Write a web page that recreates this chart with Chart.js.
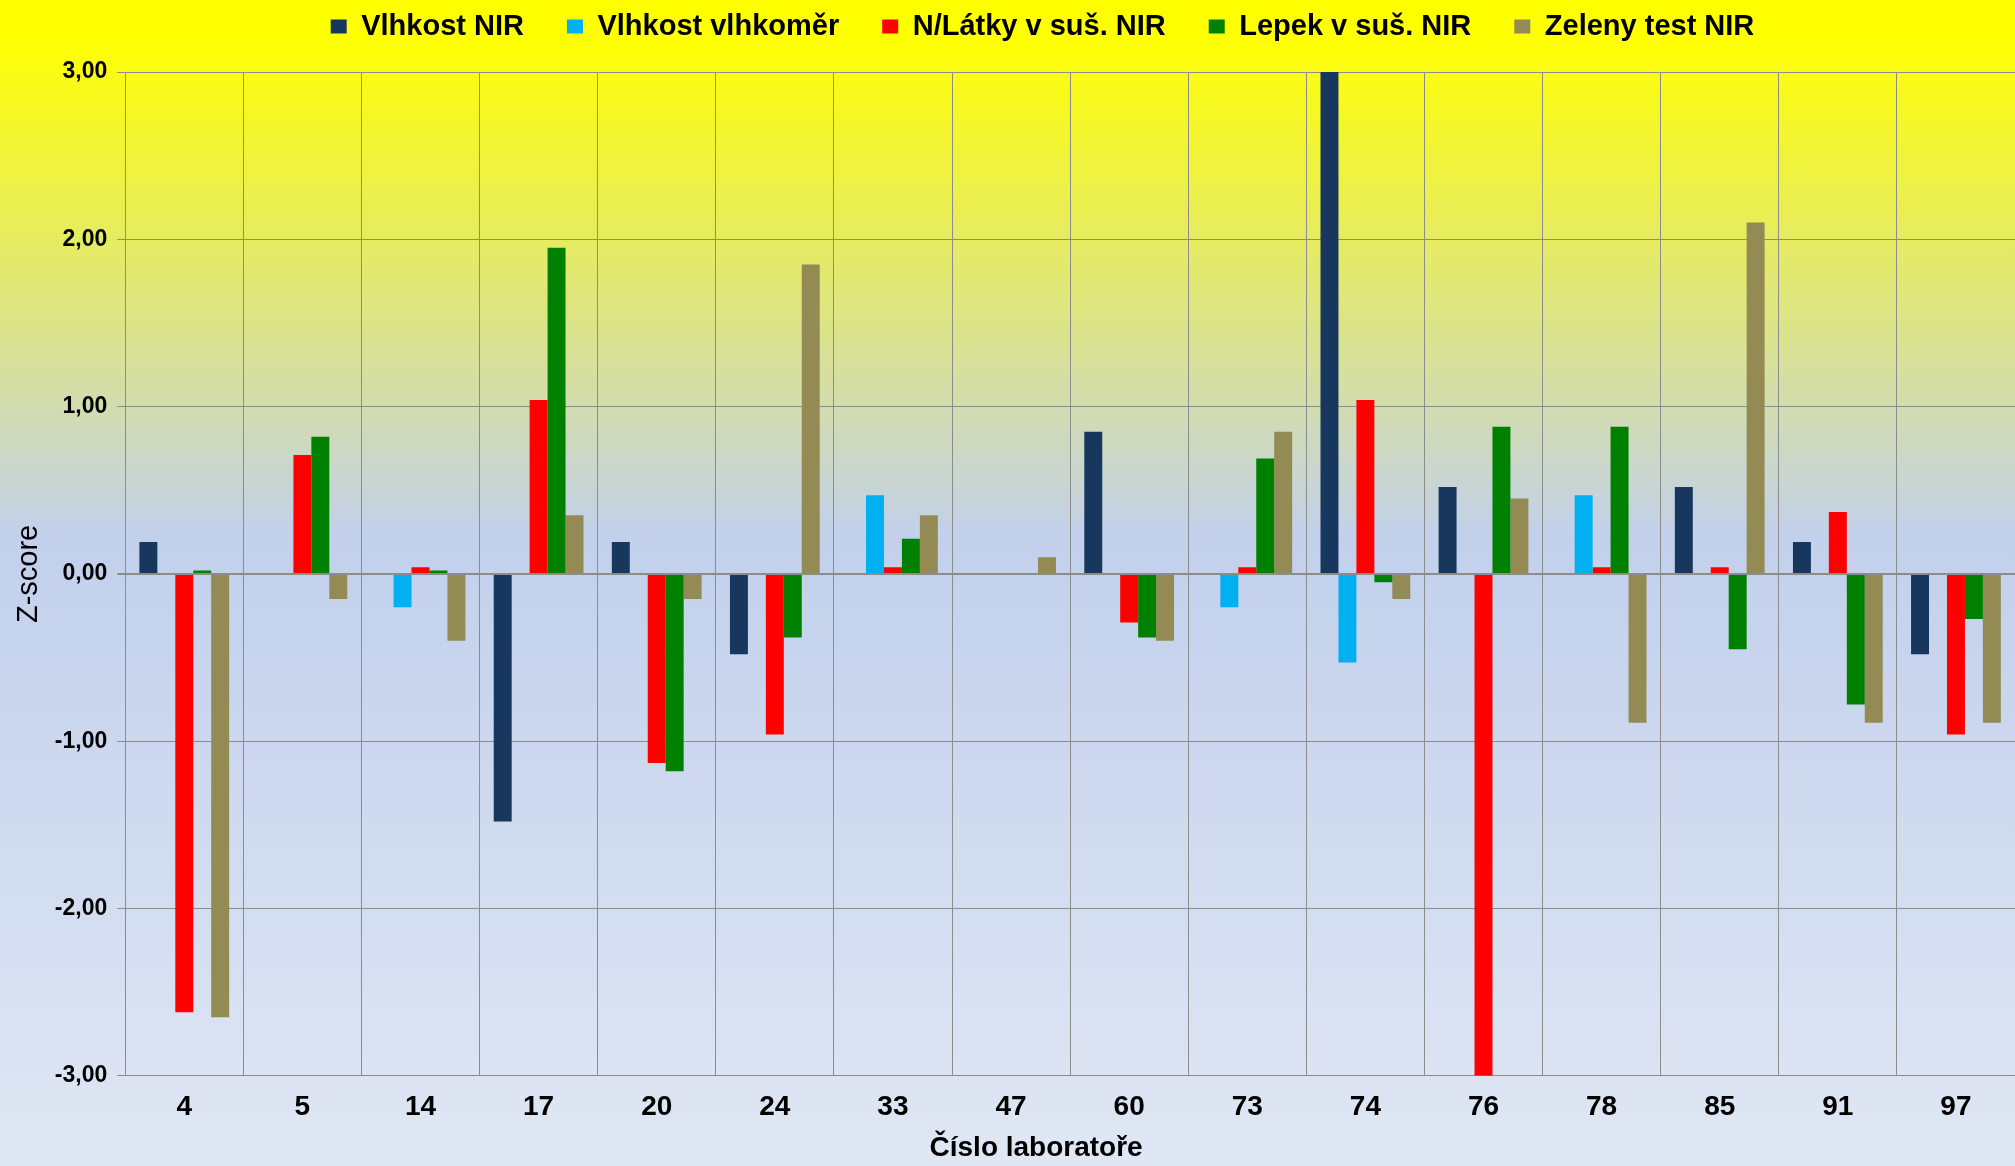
<!DOCTYPE html>
<html>
<head>
<meta charset="utf-8">
<script src="https://cdn.jsdelivr.net/npm/chart.js@4.4.0/dist/chart.umd.min.js"></script>
<style>
  html, body { margin: 0; padding: 0; background: #dfe6f4; }
  canvas { display: block; }
</style>
</head>
<body>
<canvas id="zscoreChart" width="2015" height="1166"></canvas>
<script>
// lab numbers on the x axis
const labs = ['4', '5', '14', '17', '20', '24', '33', '47', '60', '73', '74', '76', '78', '85', '91', '97'];

// z-scores per lab (null = no bar)
const vlhkostNIR      = [0.19, null, null, -1.48, 0.19, -0.48, null, null, 0.85, null, 3.00, 0.52, null, 0.52, 0.19, -0.48];
const vlhkostVlhkomer = [null, null, -0.20, null, null, null, 0.47, null, null, -0.20, -0.53, null, 0.47, null, null, null];
const nLatky          = [-2.62, 0.71, 0.04, 1.04, -1.13, -0.96, 0.04, null, -0.29, 0.04, 1.04, -3.00, 0.04, 0.04, 0.37, -0.96];
const lepek           = [0.02, 0.82, 0.02, 1.95, -1.18, -0.38, 0.21, null, -0.38, 0.69, -0.05, 0.88, 0.88, -0.45, -0.78, -0.27];
const zelenyTest      = [-2.65, -0.15, -0.40, 0.35, -0.15, 1.85, 0.35, 0.10, -0.40, 0.85, -0.15, 0.45, -0.89, 2.10, -0.89, -0.89];

const yMin = -3;
const yMax = 3;

Chart.defaults.font.family = "'Liberation Sans', Arial, sans-serif";
Chart.defaults.color = '#000';

// yellow -> blue background over the whole canvas
const bgGradient = {
  id: 'bgGradient',
  beforeDraw(chart) {
    const c = chart.ctx;
    const g = c.createLinearGradient(0, 0, 0, chart.height);
    g.addColorStop(0, '#ffff00');
    g.addColorStop(0.03, '#ffff00');
    g.addColorStop(0.46, '#c2d0ec');
    g.addColorStop(1, '#e0e7f4');
    c.save();
    c.fillStyle = g;
    c.fillRect(0, 0, chart.width, chart.height);
    c.restore();
  }
};

// wide gaps between legend items but a short legend box,
// and nudge legend / x title the way the original sits
function shifted(obj, fnName, dx) {
  const orig = obj[fnName];
  obj[fnName] = function () {
    const c = this.ctx;
    c.save();
    c.translate(dx, 0);
    orig.apply(this, arguments);
    c.restore();
  };
}

const layoutTweaks = {
  id: 'layoutTweaks',
  beforeLayout(chart) {
    const lg = chart.legend;
    if (lg && !lg._wrapped) {
      const fit = lg.fit;
      lg.fit = function () {
        fit.call(this);
        this.height = 103;
      };
      shifted(lg, 'draw', 35);
      lg._wrapped = true;
    }
    const xs = chart.scales.x;
    if (xs && !xs._wrapped) {
      shifted(xs, 'drawTitle', -34);
      xs._wrapped = true;
    }
  }
};

const ctx = document.getElementById('zscoreChart').getContext('2d');
new Chart(ctx, {
  type: 'bar',
  data: {
    labels: labs,
    datasets: [
      { label: 'Vlhkost NIR', data: vlhkostNIR, backgroundColor: '#17375e' },
      { label: 'Vlhkost vlhkoměr', data: vlhkostVlhkomer, backgroundColor: '#00b0f0' },
      { label: 'N/Látky v suš. NIR', data: nLatky, backgroundColor: '#ff0000' },
      { label: 'Lepek v suš. NIR', data: lepek, backgroundColor: '#008000' },
      { label: 'Zeleny test NIR', data: zelenyTest, backgroundColor: '#948a54' }
    ]
  },
  options: {
    responsive: false,
    animation: false,
    devicePixelRatio: 1,
    layout: {
      padding: { top: -31, left: 0, right: 0, bottom: 1 }
    },
    datasets: {
      bar: { barPercentage: 1, categoryPercentage: 0.76 }
    },
    plugins: {
      tooltip: { enabled: false },
      legend: {
        position: 'top',
        labels: {
          boxWidth: 16,
          boxHeight: 14,
          padding: 43,
          color: '#000',
          font: { size: 29, weight: 'bold' }
        }
      }
    },
    scales: {
      x: {
        grid: { color: '#8c8c8c', drawTicks: false, offset: true },
        border: { color: '#8c8c8c' },
        ticks: { padding: 15, font: { size: 28, weight: 'bold' } },
        title: {
          display: true,
          text: 'Číslo laboratoře',
          font: { size: 28, weight: 'bold' },
          padding: { top: -8, bottom: 0 }
        }
      },
      y: {
        min: yMin,
        max: yMax,
        ticks: {
          stepSize: 1,
          padding: 10,
          font: { size: 23, weight: 'bold' },
          callback: (v) => Number(v).toFixed(2).replace('.', ',')
        },
        grid: {
          color: '#8c8c8c',
          tickLength: 8,
          lineWidth: (c) => (c.tick && c.tick.value === 0 ? 2 : 1)
        },
        border: { color: '#8c8c8c' },
        title: {
          display: true,
          text: 'Z-score',
          font: { size: 29 },
          padding: { top: 12, bottom: -2 }
        }
      }
    }
  },
  plugins: [bgGradient, layoutTweaks]
});
</script>
</body>
</html>
